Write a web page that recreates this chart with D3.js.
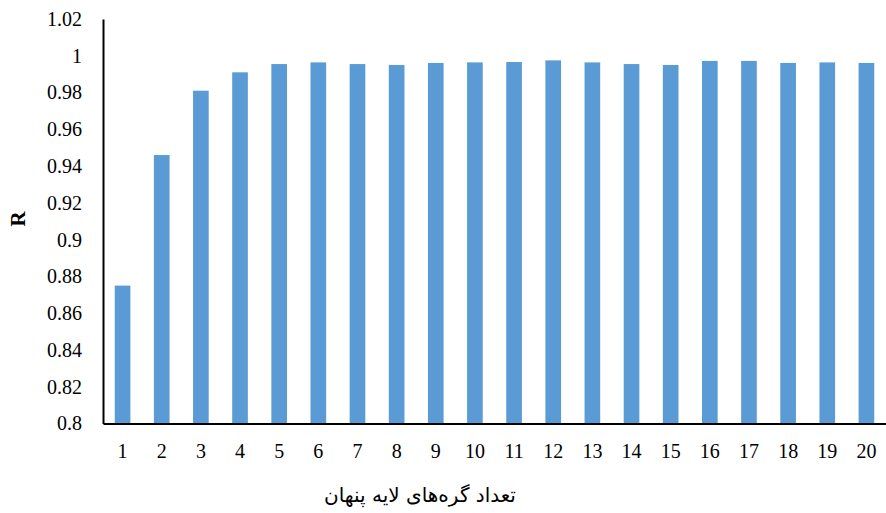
<!DOCTYPE html>
<html>
<head>
<meta charset="utf-8">
<script src="https://cdn.jsdelivr.net/npm/d3@7"></script>
<style>
  html, body { margin: 0; padding: 0; background: #fff; }
  svg { display: block; }
  .serif { font-family: "Liberation Serif", "Times New Roman", "DejaVu Serif", serif; }
</style>
</head>
<body>
<svg id="chart" width="886" height="513"></svg>
<script>
// Hidden-layer node counts and the correlation coefficient R for each
const nodes = [1, 2, 3, 4, 5, 6, 7, 8, 9, 10, 11, 12, 13, 14, 15, 16, 17, 18, 19, 20];
const rValues = [0.875, 0.946, 0.981, 0.991, 0.9955, 0.9964, 0.9955, 0.995, 0.9961, 0.9964,
                 0.9966, 0.9975, 0.9964, 0.9955, 0.995, 0.9972, 0.9972, 0.9961, 0.9964, 0.9961];
const yTicks = [0.8, 0.82, 0.84, 0.86, 0.88, 0.9, 0.92, 0.94, 0.96, 0.98, 1, 1.02];
const xTitle = "تعداد گره‌های لایه پنهان";
const yTitle = "R";

const svg = d3.select("#chart");
const margin = { left: 103, right: 0, top: 19, bottom: 89.5 };
const W = 886, H = 513;

const x = d3.scaleBand()
  .domain(nodes)
  .range([margin.left, W - margin.right])
  .paddingInner(0.6)
  .paddingOuter(0.3);

const y = d3.scaleLinear()
  .domain([0.8, 1.02])
  .range([H - margin.bottom, margin.top]);

// Bars
svg.append("g")
  .selectAll("rect")
  .data(nodes.map((n, i) => ({ n, v: rValues[i] })))
  .join("rect")
  .attr("x", d => x(d.n))
  .attr("width", x.bandwidth())
  .attr("y", d => y(d.v))
  .attr("height", d => y(0.8) - y(d.v))
  .attr("fill", "#5B9BD5");

// Y axis
const yAxis = svg.append("g")
  .attr("transform", `translate(${margin.left},0)`)
  .call(d3.axisLeft(y).tickValues(yTicks).tickSize(0).tickPadding(21)
    .tickFormat(d => String(+d.toFixed(2))));
yAxis.attr("font-family", null).attr("font-size", null);
yAxis.select(".domain").attr("stroke", "#000").attr("stroke-width", 2);
yAxis.selectAll("text")
  .attr("class", "serif")
  .style("font-size", "20px")
  .attr("fill", "#000");

// X axis
const xAxis = svg.append("g")
  .attr("transform", `translate(0,${y(0.8)})`)
  .call(d3.axisBottom(x).tickSize(0).tickPadding(20));
xAxis.attr("font-family", null).attr("font-size", null);
xAxis.select(".domain").attr("stroke", "#000").attr("stroke-width", 2);
xAxis.selectAll("text")
  .attr("class", "serif")
  .style("font-size", "20px")
  .attr("fill", "#000");

// Axis titles
svg.append("text")
  .attr("x", 420)
  .attr("y", 502)
  .attr("text-anchor", "middle")
  .attr("direction", "rtl")
  .style("font-family", "'DejaVu Sans', sans-serif")
  .style("font-size", "20px")
  .attr("fill", "#000")
  .text(xTitle);

svg.append("text")
  .attr("class", "serif")
  .attr("transform", "translate(25,219) rotate(-90)")
  .attr("text-anchor", "middle")
  .style("font-size", "21px")
  .style("font-weight", "bold")
  .attr("fill", "#000")
  .text(yTitle);
</script>
</body>
</html>
